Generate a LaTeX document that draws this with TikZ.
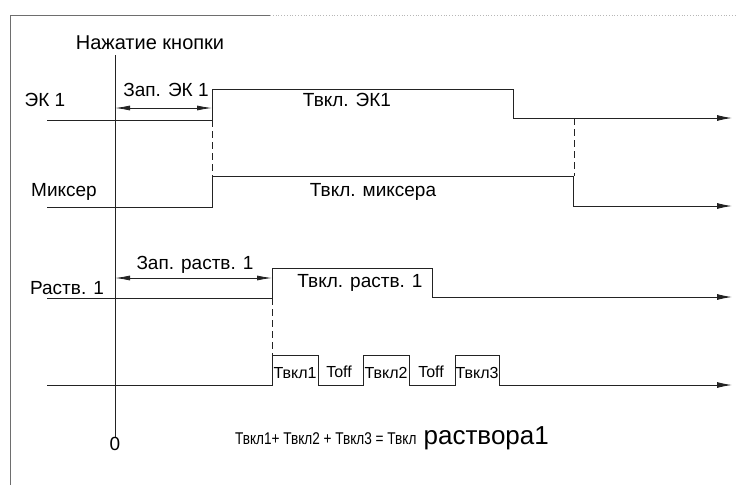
\documentclass[tikz,border=0pt]{standalone}
\usepackage{fontspec}
\setmainfont{Liberation Sans}
\usetikzlibrary{arrows.meta,positioning}
\definecolor{Ink}{RGB}{35,35,35}
\definecolor{Frame}{RGB}{110,110,110}

\begin{document}
\begin{tikzpicture}[x=1pt,y=-1pt,
  signal/.style={draw=Ink,line width=1pt},
  guide/.style={draw=Ink,line width=0.8pt,dash pattern=on 7pt off 4pt},
  span/.style={Ink,line width=0.8pt,{Latex[length=15pt,width=5pt]}-{Latex[length=15pt,width=5pt]}},
  tip/.style={-{Latex[length=15pt,width=6pt]}},
  lbl/.style={font=\fontsize{19}{21}\selectfont,inner sep=0pt},
  plbl/.style={font=\fontsize{16}{18}\selectfont,inner sep=0pt}]
\useasboundingbox (0,0) rectangle (739,485);
\draw[Frame,line width=0.8pt] (10,485) -- (10,15) -- (270,15);
\draw[Frame!50,line width=0.8pt,dotted] (270,15) -- (735,15);
\node[lbl,font=\fontsize{20}{22}\selectfont] (press) at (150,43) {Нажатие кнопки};
\node[lbl] (zero) at (115,444) {0};
\draw[Ink,line width=0.8pt] (press.south -| zero) ++(0,5) -- (zero.north);
\node[lbl] (ek) at (45,100) {ЭК 1};
\node[lbl] (mixer) at (64,192) {Миксер};
\node[lbl] (rastv) at (67,288) {Раств. 1};
\draw[signal,tip] (47,120) -- (212,120) -- (212,89) -- (513,89) -- (513,118) -- (732,118);
\draw[signal,tip] (47,207) -- (212,207) -- (212,176) -- (573,176) -- (573,206) -- (732,206);
\draw[signal,tip] (47,298) -- (272,298) -- (272,268) -- (432,268) -- (432,297) -- (732,297);
\draw[signal,tip] (47,385) -- (272,385) -- (272,355) -- (318,355) -- (318,385) -- (363,385)
  -- (363,355) -- (409,355) -- (409,385) -- (455,385) -- (455,355) -- (499,355) -- (499,385) -- (732,385);
\coordinate (ekoff) at (212,120);
\coordinate (mixrise) at (212,176);
\coordinate (ekfall) at (574,118);
\coordinate (mixfall) at (574,176);
\coordinate (rastvlow) at (272,298);
\coordinate (pulserise) at (272,355);
\draw[guide] (ekoff) -- (mixrise);
\draw[guide] (ekfall) -- (mixfall);
\draw[guide] (rastvlow) -- (pulserise);
\node[lbl] (ekdelay) at (166,90) {Зап. ЭК 1};
\coordinate (ekstart) at (115,108);
\coordinate (ekend) at (212,108);
\draw[span] (ekstart) -- (ekend);
\node[lbl] (rastvdelay) at (195,265) {Зап. раств. 1};
\coordinate (rastvstart) at (115,278);
\coordinate (rastvend) at (272,278);
\draw[span] (rastvstart) -- (rastvend);
\node[lbl] (ekon) at (347,100) {Твкл. ЭК1};
\node[lbl] (mixon) at (373,192) {Твкл. миксера};
\node[lbl] (rastvon) at (360,283) {Твкл. раств. 1};
\node[plbl] (on1) at (295,373) {Твкл1};
\node[plbl] (off1) at (339,372) {Toff};
\node[plbl] (on2) at (386,373) {Твкл2};
\node[plbl] (off2) at (431,372) {Toff};
\node[plbl] (on3) at (477,373) {Твкл3};
\node[font=\fontsize{26}{28}\selectfont,inner sep=0pt] (total) at (392,438)
  {\scalebox{0.8}[1]{\fontsize{17}{19}\selectfont Твкл1+ Твкл2 + Твкл3 = Твкл} раствора1};
\end{tikzpicture}
\end{document}
